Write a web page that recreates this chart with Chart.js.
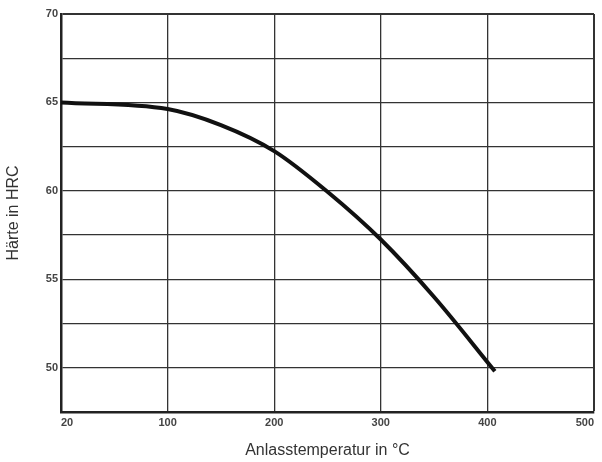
<!DOCTYPE html>
<html>
<head>
<meta charset="utf-8">
<script src="https://cdn.jsdelivr.net/npm/chart.js@4/dist/chart.umd.min.js"></script>
<style>
  html, body { margin: 0; padding: 0; background: #fff; }
  #wrap { width: 602px; height: 462px; }
</style>
</head>
<body>
<div id="wrap"><canvas id="chart"></canvas></div>
<script>
// Anlasstemperatur (°C) und Härte (HRC)
var temperaturen = [20, 100, 150, 200, 250, 300, 350, 407];
var haerte       = [65.0, 64.63, 63.72, 62.25, 59.95, 57.25, 54.0, 49.8];
var xTickLabels  = ["20", "100", "200", "300", "400", "500"];
var yTickLabels  = [50, 55, 60, 65, 70];

// die Achse ist gebrochen: 20..100 hat die gleiche Breite wie 100..200
function achsenPos(t) {
    return t < 100 ? (t - 20) * 100 / 80 : t;
}

var punkte = temperaturen.map(function (t, i) {
    return { x: achsenPos(t), y: haerte[i] };
});

var gitter = "#333";
var schrift = "'Liberation Sans', Arial, sans-serif";

new Chart(document.getElementById("chart"), {
    type: "line",
    data: {
        datasets: [{
            data: punkte,
            borderColor: "#111",
            borderWidth: 4,
            pointRadius: 0,
            cubicInterpolationMode: "monotone",
            fill: false
        }]
    },
    options: {
        responsive: true,
        maintainAspectRatio: false,
        animation: false,
        layout: { padding: { top: 14, right: 8, left: 0, bottom: 0 } },
        plugins: { legend: { display: false }, tooltip: { enabled: false } },
        scales: {
            x: {
                type: "linear",
                min: 0,
                max: 500,
                afterFit: function (s) { s.height = 50; },
                afterBuildTicks: function (s) {
                    s.ticks = xTickLabels.map(function (l, i) { return { value: i * 100 }; });
                },
                ticks: {
                    align: "inner",
                    padding: 4,
                    color: "#444",
                    font: { family: schrift, size: 11, weight: "bold" },
                    callback: function (v, i) { return xTickLabels[i]; }
                },
                grid: {
                    color: gitter,
                    drawTicks: false,
                    lineWidth: function (c) { return c.tick && c.tick.value === 500 ? 2 : 1.3; }
                },
                border: { color: "#222", width: 2.5 },
                title: {
                    display: true,
                    text: "Anlasstemperatur in °C",
                    color: "#333",
                    font: { family: schrift, size: 16 },
                    padding: { top: 0, bottom: 2 }
                }
            },
            y: {
                min: 47.5,
                max: 70,
                afterFit: function (s) { s.width = 61; },
                ticks: {
                    stepSize: 2.5,
                    padding: 3,
                    color: "#444",
                    font: { family: schrift, size: 11, weight: "bold" },
                    callback: function (v) { return yTickLabels.indexOf(v) >= 0 ? v : ""; }
                },
                grid: {
                    color: gitter,
                    drawTicks: false,
                    lineWidth: function (c) { return c.tick && c.tick.value === 70 ? 2 : 1.3; }
                },
                border: { color: "#222", width: 2.5 },
                title: {
                    display: true,
                    text: "Härte in HRC",
                    color: "#333",
                    font: { family: schrift, size: 16 },
                    padding: { top: 4, bottom: 0 }
                }
            }
        }
    }
});
</script>
</body>
</html>
